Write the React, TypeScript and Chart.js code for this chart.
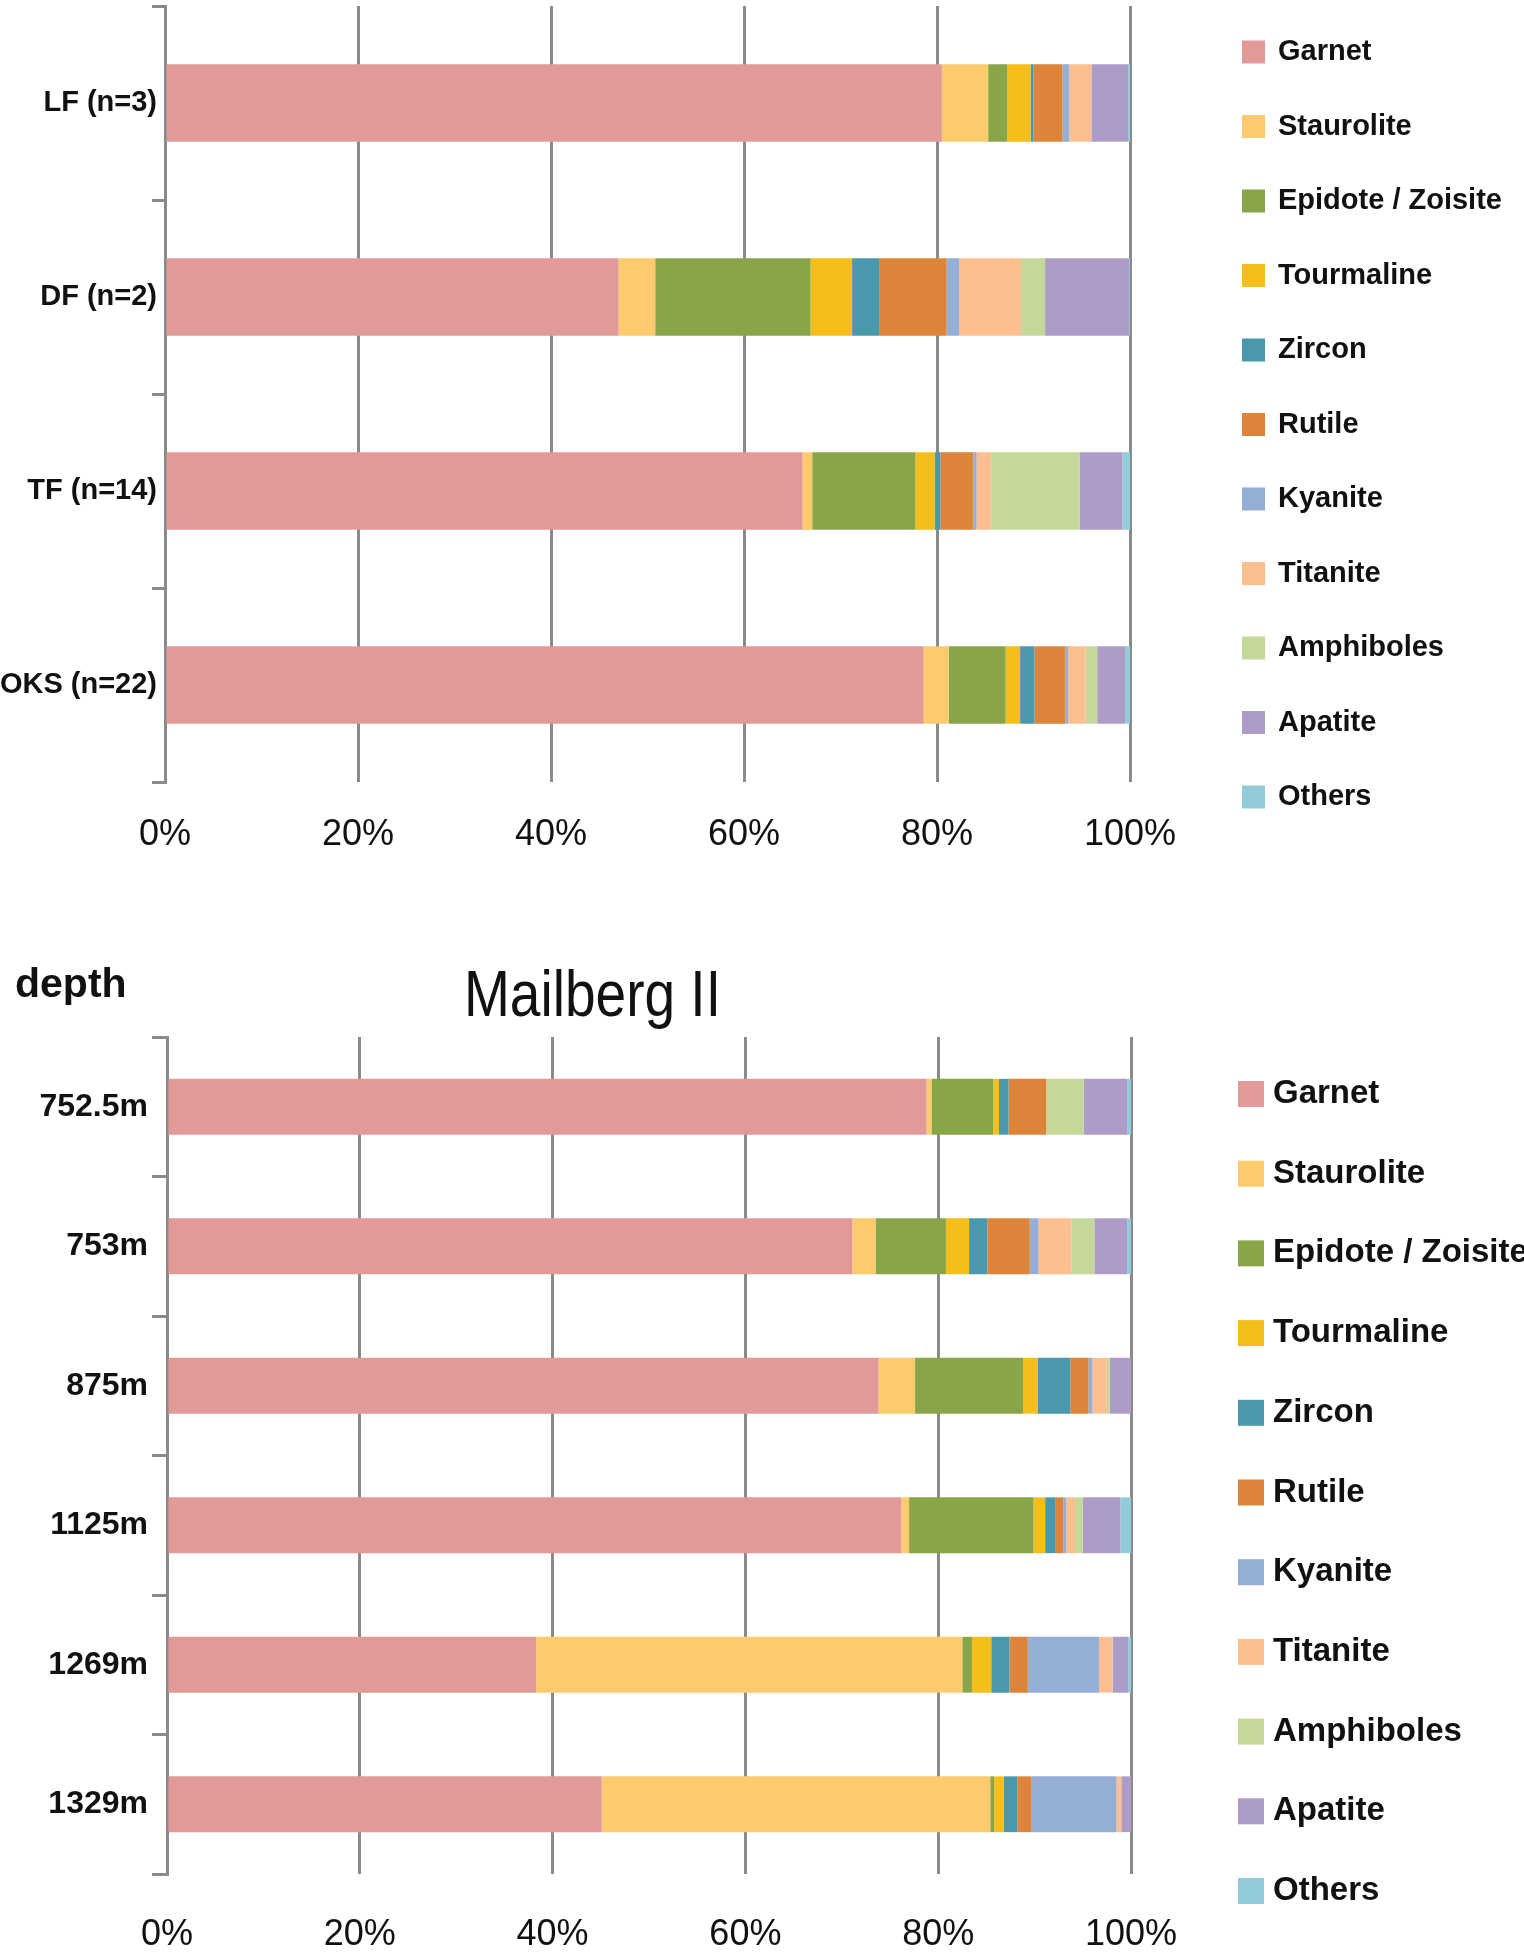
import React, { useEffect, useRef } from 'react';
import { Chart, registerables } from 'chart.js';

Chart.register(...registerables);

// ---------- data ----------
const minerals = ['Garnet', 'Staurolite', 'Epidote / Zoisite', 'Tourmaline', 'Zircon', 'Rutile', 'Kyanite', 'Titanite', 'Amphiboles', 'Apatite', 'Others'];
const mineralColors = ['#E29A99', '#FDCB6E', '#88A648', '#F6BE1A', '#4A98AC', '#DC8439', '#94AED6', '#FDBF8F', '#C4D89A', '#AE9CC8', '#92CBDA'];

const formations = ['LF (n=3)', 'DF (n=2)', 'TF (n=14)', 'OKS (n=22)'];
const fGarnet = [80.5, 47.0, 66.1, 78.7];
const fStaurolite = [4.8, 3.8, 1.0, 2.6];
const fEpidote = [2.0, 16.1, 10.7, 5.9];
const fTourmaline = [2.4, 4.3, 2.0, 1.5];
const fZircon = [0.3, 2.8, 0.6, 1.5];
const fRutile = [3.0, 7.0, 3.4, 3.2];
const fKyanite = [0.7, 1.3, 0.35, 0.3];
const fTitanite = [2.3, 6.4, 1.5, 1.8];
const fAmphiboles = [0, 2.5, 9.2, 1.2];
const fApatite = [3.8, 8.7, 4.4, 2.9];
const fOthers = [0.2, 0.1, 0.8, 0.5];

const depths = ['752.5m', '753m', '875m', '1125m', '1269m', '1329m'];
const dGarnet = [78.8, 71.1, 73.8, 76.1, 38.3, 45.1];
const dStaurolite = [0.5, 2.4, 3.8, 0.8, 44.2, 40.3];
const dEpidote = [6.4, 7.3, 11.2, 12.9, 1.0, 0.4];
const dTourmaline = [0.6, 2.4, 1.5, 1.2, 2.0, 1.0];
const dZircon = [1.0, 1.9, 3.4, 1.1, 1.9, 1.4];
const dRutile = [3.9, 4.4, 1.9, 0.8, 1.9, 1.5];
const dKyanite = [0, 0.9, 0.4, 0.3, 7.4, 8.8];
const dTitanite = [0, 3.4, 1.5, 0.9, 1.4, 0.5];
const dAmphiboles = [3.9, 2.4, 0.3, 0.8, 0, 0];
const dApatite = [4.5, 3.4, 2.2, 3.9, 1.6, 1.0];
const dOthers = [0.4, 0.4, 0, 1.1, 0.3, 0];

const xTicks = [0, 20, 40, 60, 80, 100];

const formationSeries = [fGarnet, fStaurolite, fEpidote, fTourmaline, fZircon, fRutile, fKyanite, fTitanite, fAmphiboles, fApatite, fOthers];
const depthSeries = [dGarnet, dStaurolite, dEpidote, dTourmaline, dZircon, dRutile, dKyanite, dTitanite, dAmphiboles, dApatite, dOthers];

const FONT = '"Liberation Sans", Arial, Helvetica, sans-serif';
const GRID = '#8A8A8A';

// 100% stacked: normalise each row by its sum
function toPercent(series: number[][]) {
  const n = series[0].length;
  const sums = Array.from({ length: n }, (_, j) => series.reduce((s, arr) => s + arr[j], 0));
  return series.map((arr) => arr.map((v, j) => (v / sums[j]) * 100));
}

const sideLegend = {
  id: 'sideLegend',
  afterDraw(chart: any, _args: any, opts: any) {
    const { ctx } = chart;
    ctx.save();
    chart.data.datasets.forEach((ds: any, i: number) => {
      const cy = opts.y0 + i * opts.step;
      ctx.fillStyle = ds.backgroundColor;
      ctx.fillRect(opts.boxX, cy - opts.box / 2, opts.box, opts.box);
      ctx.fillStyle = '#111';
      ctx.font = `bold ${opts.fontSize}px ${FONT}`;
      ctx.textBaseline = 'middle';
      ctx.textAlign = 'left';
      ctx.fillText(ds.label, opts.textX, cy);
    });
    ctx.restore();
  },
};

type Cfg = {
  top: number;
  height: number;
  labels: string[];
  series: number[][];
  area: { left: number; right: number; top: number; bottom: number };
  yFont: number;
  yTickLen: number;
  yPad: number;
  xFont: number;
  xPad: number;
  legend: { y0: number; step: number; box: number; boxX: number; textX: number; fontSize: number };
};

function StackChart({ cfg }: { cfg: Cfg }) {
  const ref = useRef<HTMLCanvasElement | null>(null);
  useEffect(() => {
    if (!ref.current) return;
    const W = 1524;
    const pct = toPercent(cfg.series);
    const chart = new Chart(ref.current, {
      type: 'bar',
      data: {
        labels: cfg.labels,
        datasets: minerals.map((m, i) => ({
          label: m,
          data: pct[i],
          backgroundColor: mineralColors[i],
          borderWidth: 0,
          categoryPercentage: 1,
          barPercentage: 0.4,
        })),
      },
      options: {
        indexAxis: 'y',
        responsive: false,
        animation: false,
        devicePixelRatio: 1,
        layout: { padding: { left: 0, right: W - cfg.area.right, top: cfg.area.top, bottom: 0 } },
        plugins: {
          legend: { display: false },
          tooltip: { enabled: false },
          title: { display: false },
          sideLegend: cfg.legend,
        } as any,
        scales: {
          x: {
            stacked: true,
            min: 0,
            max: 100,
            afterBuildTicks: (s: any) => {
              s.ticks = xTicks.map((v) => ({ value: v }));
            },
            afterFit: (s: any) => {
              s.height = cfg.height - cfg.area.bottom;
            },
            grid: { color: GRID, lineWidth: 3, drawTicks: false },
            border: { display: false },
            ticks: {
              color: '#111',
              font: { family: FONT, size: cfg.xFont },
              padding: cfg.xPad,
              callback: (v: any) => v + '%',
              maxRotation: 0,
            },
          },
          y: {
            stacked: true,
            afterFit: (s: any) => {
              s.width = cfg.area.left;
              s.paddingTop = 0;
              s.paddingBottom = 0;
            },
            grid: { color: GRID, lineWidth: 3, drawOnChartArea: false, drawTicks: true, tickLength: cfg.yTickLen, offset: true },
            border: { display: true, color: GRID, width: 3 },
            ticks: {
              color: '#111',
              font: { family: FONT, size: cfg.yFont, weight: 'bold' },
              padding: cfg.yPad,
            },
          },
        },
      } as any,
      plugins: [sideLegend],
    });
    return () => chart.destroy();
  }, []);
  return (
    <canvas
      ref={ref}
      width={1524}
      height={cfg.height}
      style={{ position: 'absolute', left: 0, top: cfg.top, width: 1524, height: cfg.height }}
    />
  );
}

const topCfg: Cfg = {
  top: 0,
  height: 900,
  labels: formations,
  series: formationSeries,
  area: { left: 165, right: 1130, top: 6, bottom: 782 },
  yFont: 29,
  yTickLen: 13,
  yPad: -5,
  xFont: 36,
  xPad: 31,
  legend: { y0: 52, step: 74.5, box: 23, boxX: 1242, textX: 1278, fontSize: 29 },
};

const bottomCfg: Cfg = {
  top: 960,
  height: 995,
  labels: depths,
  series: depthSeries,
  area: { left: 167, right: 1131, top: 77, bottom: 914 },
  yFont: 32,
  yTickLen: 15,
  yPad: 4,
  xFont: 36,
  xPad: 39,
  legend: { y0: 134, step: 79.7, box: 26, boxX: 1238, textX: 1273, fontSize: 33 },
};

export default function App() {
  return (
    <div style={{ position: 'absolute', left: 0, top: 0, width: 1524, height: 1955, background: '#fff', overflow: 'hidden' }}>
      <StackChart cfg={topCfg} />
      <StackChart cfg={bottomCfg} />
      <div
        style={{
          position: 'absolute',
          left: 15,
          top: 963,
          fontFamily: FONT,
          fontWeight: 'bold',
          fontSize: 41,
          lineHeight: 1,
          color: '#111',
        }}
      >
        depth
      </div>
      <div
        style={{
          position: 'absolute',
          left: 464,
          top: 962,
          fontFamily: FONT,
          fontSize: 64,
          lineHeight: 1,
          color: '#111',
          transform: 'scaleX(0.86)',
          transformOrigin: 'left top',
          whiteSpace: 'nowrap',
        }}
      >
        Mailberg II
      </div>
    </div>
  );
}
